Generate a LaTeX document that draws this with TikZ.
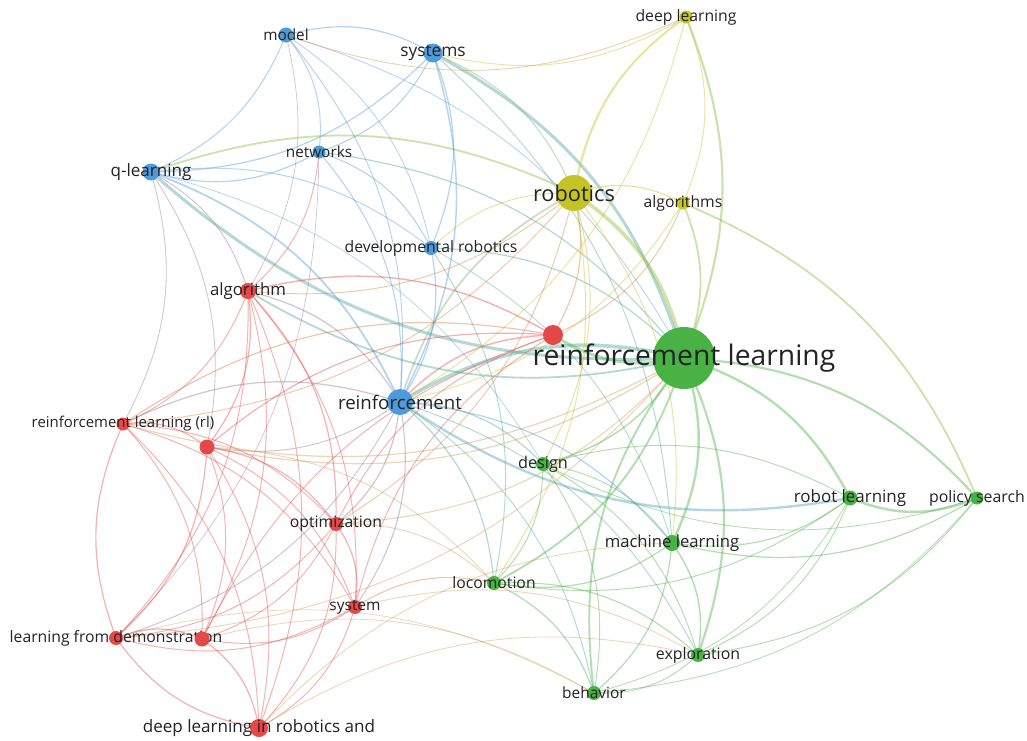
\documentclass[tikz,border=0pt]{standalone}
\usepackage{fontspec}
\setmainfont{Open Sans}
\usepackage{tikz}
\usetikzlibrary{backgrounds}
\definecolor{vblue}{RGB}{78,154,218}
\definecolor{vred}{RGB}{229,72,72}
\definecolor{vgreen}{RGB}{72,178,68}
\definecolor{vyellow}{RGB}{196,196,38}
\definecolor{vtan}{RGB}{205,160,90}
\definecolor{labelgray}{RGB}{35,35,35}

\begin{document}
\begin{tikzpicture}[x=0.75pt, y=-0.75pt,
      dot/.style={circle, inner sep=0pt, draw=none},
      lbl/.style={text=labelgray, inner sep=0pt},
      edge/.style={draw opacity=0.42, line cap=round}]
    \foreach \nm/\x/\y/\d/\col/\fs/\txt in {
        model/286/35/15/vblue/11.5/model,
        systems/433/53/19/vblue/13/systems,
        networks/319/152/13/vblue/11.5/networks,
        qlearn/151/172/17/vblue/12.8/q-learning,
        devrob/431/248/14/vblue/11.8/{developmental robotics},
        reinf/400/402/26/vblue/14/reinforcement,
        deeplearn/686/17/13/vyellow/11.8/{deep learning},
        robotics/574/193/36/vyellow/16.3/robotics,
        algorithms/683/203/13/vyellow/11.8/algorithms,
        redA/553/335/20/vred/10/{},
        rlmain/684/358/62/vgreen/21.2/{reinforcement learning},
        algorithm/248/291/16/vred/12.6/algorithm,
        rlrl/123/424/13/vred/11.2/{reinforcement learning (rl)},
        redB/207/447/15/vred/10/{},
        optim/336/524/14/vred/11.8/optimization,
        system/355/607/14/vred/11.6/system,
        lfd/116/638/14/vred/11.8/{learning from demonstration},
        redC/202/639/15/vred/10/{},
        dlr/259/728/18/vred/12.8/{deep learning in robotics and},
        design/543/464/14/vgreen/12.2/design,
        locom/494/583/14/vgreen/11.8/locomotion,
        roblearn/850/498/15/vgreen/12.7/{robot learning},
        policy/977/498/13/vgreen/11.9/{policy search},
        ml/672/543/16/vgreen/12.5/{machine learning},
        explor/698/655/14/vgreen/11.9/exploration,
        behav/594/693/14/vgreen/11.6/behavior} {
      \node[dot, minimum size=\d*0.75pt, fill=\col,
            label={[lbl, font=\fontsize{\fs}{\fs}\selectfont]center:\txt}] (\nm) at (\x,\y) {};
    }
    \begin{scope}[on background layer]
      \fill[white] (0,0) rectangle (1027,740);
      \foreach \a/\b/\w/\col in {
          model/systems/1/vblue, model/qlearn/0.9/vblue, model/networks/0.8/vblue,
          model/devrob/0.7/vblue, model/reinf/0.8/vblue, model/rlmain/0.7/vblue,
          model/algorithm/0.6/vblue!50!vred,
          systems/qlearn/1/vblue, systems/networks/0.9/vblue, systems/devrob/1/vblue,
          systems/reinf/1.2/vblue, systems/rlmain/2.5/vblue!60!vgreen,
          systems/robotics/1/vblue!50!vyellow, systems/ml/0.8/vblue!50!vgreen,
          deeplearn/systems/0.8/vyellow,
          networks/qlearn/1/vblue, networks/devrob/0.9/vblue, networks/reinf/0.9/vblue,
          networks/rlmain/1/vblue!50!vgreen, networks/algorithm/0.8/vred,
          networks/lfd/0.6/vblue!50!vred,
          qlearn/reinf/1.5/vblue, rlmain/qlearn/2.5/vblue!60!vgreen,
          qlearn/algorithm/0.8/vblue!50!vred, qlearn/devrob/0.8/vblue,
          qlearn/rlrl/0.7/vblue!50!vred, qlearn/redB/0.7/vblue!50!vred,
          qlearn/design/0.6/vblue,
          devrob/reinf/1/vblue, devrob/rlmain/1/vblue!50!vgreen,
          devrob/locom/0.8/vblue!50!vgreen, devrob/robotics/0.8/vyellow,
          devrob/ml/0.7/vblue!50!vgreen,
          reinf/rlmain/3/vblue!50!vgreen, reinf/robotics/1.5/vblue!50!vyellow,
          reinf/ml/1/vblue, roblearn/reinf/2/vblue!80!vgreen,
          reinf/design/1/vblue!50!vgreen, reinf/locom/1/vblue!50!vgreen,
          reinf/optim/1/vblue!50!vred, reinf/system/0.9/vblue!50!vred,
          rlrl/reinf/1/vblue!50!vred, reinf/redB/0.8/vblue!50!vred,
          reinf/lfd/0.8/vblue!50!vred,
          reinf/behav/0.8/vblue!50!vgreen, reinf/explor/0.8/vblue!50!vgreen,
          reinf/redA/1.2/vred,
          robotics/deeplearn/1.8/vyellow, deeplearn/rlmain/1.8/vyellow!50!vgreen,
          deeplearn/algorithms/0.8/vyellow, deeplearn/model/0.7/vyellow!60!vred,
          deeplearn/reinf/0.8/vyellow,
          robotics/algorithms/1/vyellow, robotics/rlmain/3/vyellow!60!vgreen,
          qlearn/robotics/1.5/vyellow!50!vgreen, robotics/redA/1/vyellow!50!vred,
          robotics/design/0.8/vyellow, robotics/locom/0.8/vyellow,
          robotics/algorithm/0.8/vyellow!50!vred, robotics/ml/0.8/vyellow,
          robotics/rlrl/0.8/vyellow!50!vred, robotics/optim/0.8/vyellow!50!vred,
          algorithms/rlmain/1.5/vyellow!50!vgreen, algorithms/redA/0.8/vred!50!vyellow,
          algorithms/policy/1.5/vyellow!50!vgreen, algorithms/reinf/0.8/vyellow,
          rlmain/redA/2.5/vgreen, rlmain/design/1.2/vgreen, rlmain/roblearn/2/vgreen,
          rlmain/policy/1.8/vgreen, rlmain/ml/2/vgreen, rlmain/explor/1.8/vgreen,
          behav/rlmain/1.6/vgreen, rlmain/locom/1.6/vgreen,
          rlmain/algorithm/1.5/vgreen!50!vblue, rlmain/rlrl/1/vtan,
          rlmain/optim/0.9/vtan, rlmain/redB/1/vtan,
          rlmain/lfd/0.8/vtan,
          design/ml/0.8/vgreen, design/locom/0.8/vgreen, design/roblearn/0.8/vgreen,
          design/explor/0.8/vgreen, design/behav/0.8/vgreen,
          policy/roblearn/2/vgreen, roblearn/ml/0.9/vgreen, roblearn/explor/0.8/vgreen,
          roblearn/locom/0.8/vgreen, roblearn/behav/0.7/vgreen,
          policy/ml/1/vgreen, policy/explor/0.8/vgreen, policy/behav/0.7/vgreen,
          policy/design/0.7/vgreen,
          ml/explor/1.2/vgreen, ml/behav/1/vgreen, ml/locom/1/vgreen,
          locom/explor/0.9/vgreen, locom/behav/1/vgreen, explor/behav/0.8/vgreen,
          algorithm/redB/1/vred, algorithm/rlrl/0.8/vred, algorithm/optim/1/vred,
          algorithm/system/0.8/vred, algorithm/lfd/0.8/vred, algorithm/redC/0.8/vred,
          algorithm/dlr/0.8/vred, algorithm/redA/1.2/vred, algorithm/reinf/1/vred!50!vblue,
          rlrl/redB/0.9/vred, lfd/rlrl/1/vred, rlrl/redC/0.8/vred, rlrl/dlr/0.8/vred,
          rlrl/optim/0.8/vred, rlrl/system/0.8/vred, rlrl/redA/1/vred!60!vyellow,
          redB/optim/1/vred, redB/system/0.8/vred, redB/lfd/1/vred, redB/redC/0.8/vred,
          redB/dlr/0.8/vred, redB/redA/1/vred, redB/locom/0.7/vtan,
          optim/system/1/vred, optim/lfd/0.8/vred, optim/redC/0.8/vred, optim/dlr/0.8/vred,
          optim/redA/0.8/vred, optim/locom/0.8/vtan,
          system/lfd/0.8/vred, system/redC/0.8/vred, system/dlr/0.8/vred,
          system/locom/0.9/vred!60!vyellow, system/redA/0.8/vred,
          lfd/redC/1/vred, dlr/lfd/1/vred, redC/dlr/1/vred, redC/redA/0.8/vred,
          redC/behav/0.7/vtan, dlr/explor/0.7/vtan,
          dlr/ml/0.7/vtan, lfd/behav/0.6/vtan,
          system/explor/0.7/vtan} {
        \draw[edge, line width=\w*0.9pt, draw=\col] (\a.center) to[bend left=22] (\b.center);
      }
    \end{scope}
  \end{tikzpicture}
\end{document}
